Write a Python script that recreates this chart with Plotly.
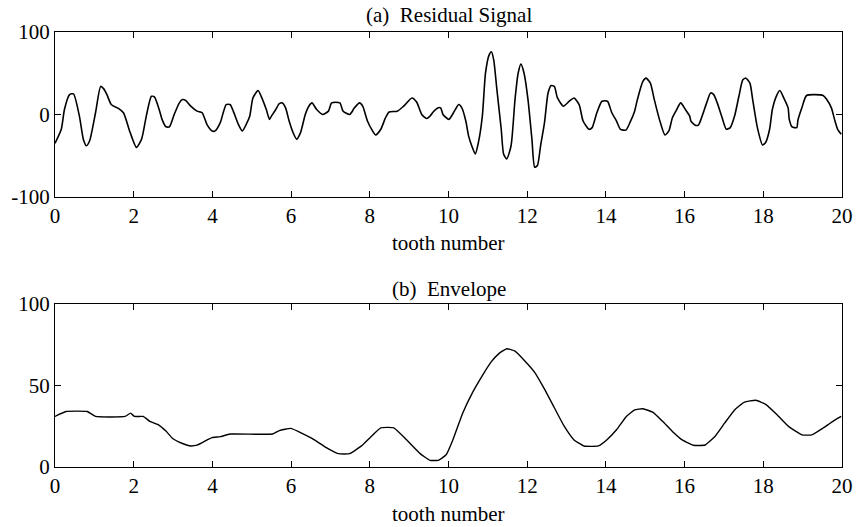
import plotly.graph_objects as go

# (a) residual signal, sampled along tooth number
res_x = [0.00, 0.16, 0.24, 0.37, 0.47, 0.62, 0.72, 0.80, 0.88, 1.03, 1.16, 1.24, 1.32, 1.43,
         1.62, 1.74, 1.91, 2.07, 2.20, 2.32, 2.45, 2.53, 2.66, 2.72, 2.82, 2.91, 3.03, 3.16,
         3.24, 3.32, 3.45, 3.61, 3.74, 3.86, 3.99, 4.07, 4.20, 4.35, 4.45, 4.53, 4.66, 4.76,
         4.88, 4.95, 5.03, 5.16, 5.24, 5.37, 5.45, 5.50, 5.61, 5.70, 5.78, 5.86, 5.95, 6.05,
         6.14, 6.24, 6.36, 6.45, 6.53, 6.65, 6.80, 6.95, 7.03, 7.24, 7.32, 7.49, 7.61, 7.74,
         7.82, 7.94, 8.07, 8.15, 8.28, 8.40, 8.49, 8.70, 8.86, 9.07, 9.19, 9.32, 9.44, 9.53,
         9.61, 9.74, 9.80, 9.86, 10.01, 10.15, 10.26, 10.34, 10.44, 10.51, 10.59, 10.68, 10.76,
         10.86, 10.94, 11.03, 11.09, 11.15, 11.23, 11.34, 11.40, 11.48, 11.59, 11.69, 11.77,
         11.84, 11.92, 12.02, 12.12, 12.19, 12.26, 12.34, 12.44, 12.53, 12.61, 12.69, 12.77,
         12.92, 13.07, 13.19, 13.32, 13.42, 13.57, 13.65, 13.77, 13.90, 14.04, 14.15, 14.27,
         14.37, 14.51, 14.61, 14.73, 14.80, 14.94, 15.02, 15.13, 15.23, 15.36, 15.50, 15.60,
         15.69, 15.80, 15.90, 16.02, 16.13, 16.16, 16.27, 16.35, 16.46, 16.56, 16.66, 16.74,
         16.83, 16.94, 17.06, 17.16, 17.27, 17.38, 17.48, 17.56, 17.66, 17.73, 17.85, 17.98,
         18.06, 18.16, 18.23, 18.33, 18.42, 18.52, 18.63, 18.66, 18.73, 18.85, 18.88, 18.98,
         19.10, 19.52, 19.60, 19.73, 19.81, 19.89, 19.98]
res_y = [-35, -18, 6, 24, 25, -2, -30, -38, -32, 2, 34, 31, 24, 12,
         7, 2, -22, -40, -30, -2, 22, 21, 4, -6, -15, -15, 0, 14,
         18, 17, 10, 4, 2, -12, -20, -20, -10, 12, 12, 4, -12, -20,
         -10, -2, 20, 29, 22, 6, -6, -2, 6, 13, 14, 8, -8, -22,
         -30, -22, 0, 10, 14, 6, 0, 4, 14, 14, 4, 0, 8, 14,
         10, -8, -20, -25, -18, -4, 3, 4, 10, 20, 15, 0, -5, -2,
         3, 8, 8, 0, -6, 4, 12, 8, -8, -26, -38, -48, -34,
         -2, 50, 72, 76, 66, 30, -18, -48, -54, -38, 18, 50,
         61, 50, 18, -30, -64, -62, -38, -10, 26, 35, 34, 20,
         10, 16, 20, 12, -8, -18, -16, 2, 16, 16, 2, -8,
         -18, -19, -10, 4, 18, 40, 44, 38, 18, -6, -25, -20,
         -4, 6, 14, 6, -2, -8, -13, -13, 0, 14, 26, 24,
         14, -2, -18, -16, -2, 22, 42, 44, 38, 18, -16, -37,
         -34, -18, 6, 22, 29, 20, 8, -6, -15, -16, -7, 8,
         23, 23, 19, 8, -6, -18, -24]

# (b) envelope of the residual signal
env_x = [0.00, 0.28, 0.82, 1.03, 1.78, 1.92, 2.02, 2.24, 2.41, 2.62, 2.82, 2.99, 3.24, 3.41,
         3.61, 3.86, 3.99, 4.20, 4.45, 5.53, 5.70, 5.99, 6.20, 6.53, 6.86, 7.20, 7.49, 7.78,
         8.03, 8.28, 8.61, 8.94, 9.28, 9.53, 9.74, 9.94, 10.11, 10.36, 10.61, 10.86, 11.07,
         11.28, 11.48, 11.69, 11.94, 12.19, 12.44, 12.69, 12.94, 13.19, 13.44, 13.81, 14.02,
         14.27, 14.52, 14.73, 14.94, 15.19, 15.44, 15.69, 15.94, 16.23, 16.52, 16.77, 17.02,
         17.27, 17.52, 17.81, 18.06, 18.35, 18.64, 18.98, 19.23, 19.52, 19.77, 19.98]
env_y = [31, 34, 34, 31, 31, 33, 31, 31, 28, 26, 22, 17.5, 14.4, 13,
         13.4, 16.5, 18, 18.6, 20.2, 20.2, 22.3, 23.7, 21.6, 17.5, 12.4, 8.2, 8.2, 12.8,
         18.6, 24, 24, 16.5, 8.2, 4.1, 4.1, 7.5, 16.6, 33, 45.6, 56, 64,
         69.5, 72.5, 71, 65, 58, 47.7, 36.3, 25, 16.6, 12.9, 12.9, 16.6,
         22.8, 31, 35, 35.7, 33.6, 28, 21.8, 16.6, 13.3, 13.5, 18.7, 27,
         35, 39.8, 40.9, 38.4, 32, 24.9, 19.7, 19.7, 23.9, 28, 31]

x_ticks = [0, 2, 4, 6, 8, 10, 12, 14, 16, 18, 20]
res_ticks = [-100, 0, 100]
res_tick_text = ["-100", "0", "100"]
env_ticks = [0, 50, 100]

FONT = "Liberation Serif, Times New Roman, serif"

fig = go.Figure()
fig.add_trace(go.Scatter(x=res_x, y=res_y, mode="lines",
                         line=dict(color="black", width=1.6, shape="spline", smoothing=0.6),
                         xaxis="x", yaxis="y", showlegend=False))
fig.add_trace(go.Scatter(x=env_x, y=env_y, mode="lines",
                         line=dict(color="black", width=1.4, shape="spline", smoothing=0.4),
                         xaxis="x2", yaxis="y2", showlegend=False))

axis_common = dict(showgrid=False, zeroline=False, showline=True, linecolor="black",
                   linewidth=1.2, mirror="ticks", ticks="inside", ticklen=6,
                   tickcolor="black", tickwidth=1.2,
                   tickfont=dict(family=FONT, size=21, color="black"))

fig.update_layout(
    width=864, height=527,
    margin=dict(l=52, r=11, t=32, b=60),
    paper_bgcolor="white", plot_bgcolor="white",
    xaxis=dict(domain=[0, 1], range=[0, 20], tickvals=x_ticks, anchor="y", **axis_common),
    yaxis=dict(domain=[0.621, 1], range=[-100, 100], tickvals=res_ticks,
               ticktext=res_tick_text, anchor="x", **axis_common),
    xaxis2=dict(domain=[0, 1], range=[0, 20], tickvals=x_ticks, anchor="y2", **axis_common),
    yaxis2=dict(domain=[0, 0.375], range=[0, 100], tickvals=env_ticks, anchor="x2",
                **axis_common),
    annotations=[
        dict(text="(a)  Residual Signal", xref="x domain", yref="y domain", x=0.5, y=1,
             yanchor="middle", yshift=17, showarrow=False,
             font=dict(family=FONT, size=21, color="black")),
        dict(text="tooth number", xref="x domain", yref="y domain", x=0.5, y=0,
             yanchor="middle", yshift=-46, showarrow=False,
             font=dict(family=FONT, size=21, color="black")),
        dict(text="(b)  Envelope", xref="x2 domain", yref="y2 domain", x=0.5, y=1,
             yanchor="middle", yshift=15, showarrow=False,
             font=dict(family=FONT, size=21, color="black")),
        dict(text="tooth number", xref="x2 domain", yref="y2 domain", x=0.5, y=0,
             yanchor="middle", yshift=-47, showarrow=False,
             font=dict(family=FONT, size=21, color="black")),
    ],
)

fig.write_html("out.html")
